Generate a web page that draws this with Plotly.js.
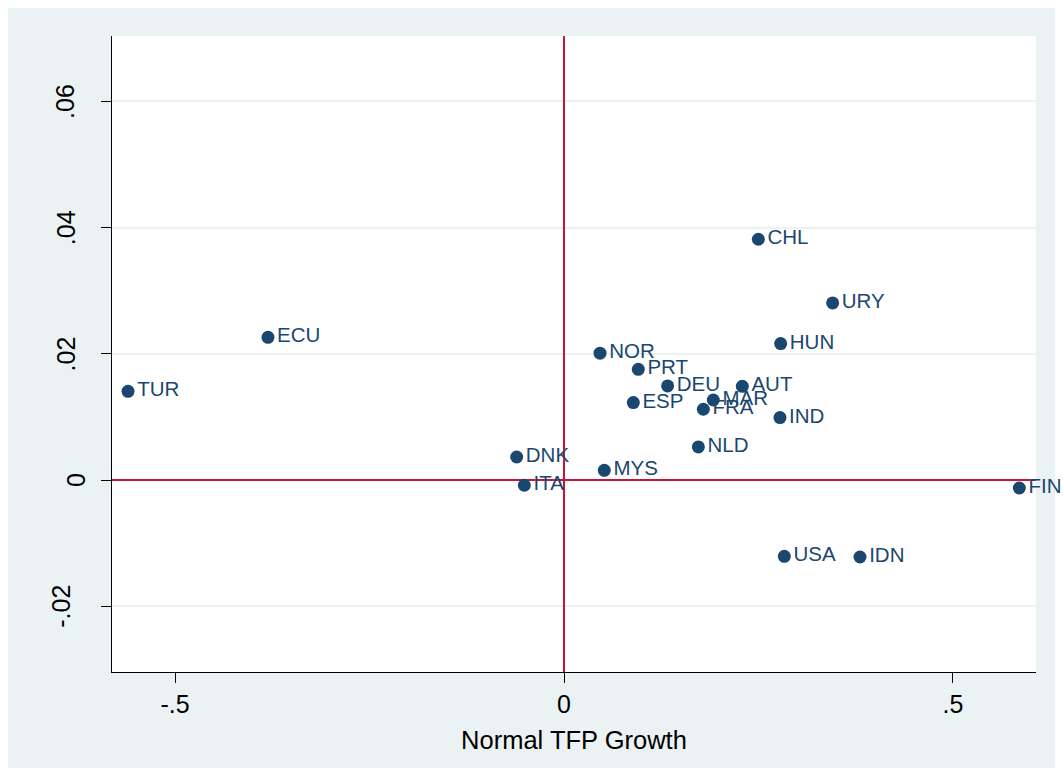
<!DOCTYPE html>
<html>
<head>
<meta charset="utf-8">
<script src="https://cdn.plot.ly/plotly-3.0.1.min.js"></script>
<style>html,body{margin:0;padding:0;background:#fff;}#chart{width:1063px;height:776px;}</style>
</head>
<body>
<div id="chart"></div>
<script>
const countries = ["TUR","ECU","NOR","PRT","DEU","ESP","MAR","FRA","AUT","NLD","IND","HUN","CHL","URY","DNK","MYS","ITA","FIN","USA","IDN"];
const tfpGrowth = [-0.5604,-0.3805,0.0463,0.0955,0.1332,0.0891,0.1919,0.1791,0.2292,0.1727,0.2776,0.2785,0.2498,0.3453,-0.0608,0.0518,-0.0510,0.5853,0.2832,0.3805];
const yValues = [0.01406,0.02261,0.02010,0.01754,0.01490,0.01227,0.01268,0.01121,0.01485,0.00524,0.00989,0.02162,0.03814,0.02805,0.00365,0.00154,-0.00083,-0.00126,-0.01208,-0.01219];
const xTickVals = [-0.5,0,0.5];
const xTickText = ["-.5","0",".5"];
const yTickVals = [-0.02,0,0.02,0.04,0.06];
const yTickText = ["-.02","0",".02",".04",".06"];

const navy = "#1a476f";
const bgBlue = "#eaf2f3";
const red = "#c8153c";
const font = "Arial, 'Liberation Sans', sans-serif";
const tickSize = 25;

const trace = {
  type: "scatter",
  mode: "markers+text",
  x: tfpGrowth,
  y: yValues,
  text: countries,
  textposition: "middle right",
  textfont: {family: font, size: 20.5, color: navy},
  marker: {size: 13, color: navy},
  cliponaxis: false,
  hoverinfo: "skip"
};

// plot area: 112..1036 x 36..672
const W = 924, H = 636, L = 112, T = 36;
function px(p){ return (p - L) / W; }
function py(p){ return (T + H - p) / H; }

// rough text width (em) of a tick label in Arial
function emWidth(s){
  let w = 0;
  for (const c of s) w += (c === "." ? 0.278 : c === "-" ? 0.333 : 0.556);
  return w;
}

// y tick labels, rotated, placed like the original (longer labels sit further left)
const yLabelAnnotations = yTickText.map((t, i) => ({
  xref: "paper", yref: "y",
  x: 0, y: yTickVals[i],
  text: t, showarrow: false,
  textangle: -90,
  xanchor: "center", yanchor: "middle",
  xshift: -29 - 0.5 * emWidth(t) * tickSize,
  font: {family: font, size: tickSize, color: "#000"}
}));

const layout = {
  width: 1063, height: 776,
  margin: {l: 112, r: 27, t: 36, b: 104, pad: 0},
  paper_bgcolor: "#ffffff",
  plot_bgcolor: "rgba(0,0,0,0)",
  showlegend: false,
  font: {family: font, color: "#000"},
  xaxis: {
    range: [-0.581, 0.6067],
    tickvals: xTickVals, ticktext: xTickText,
    ticks: "outside", ticklen: 10, tickwidth: 1, tickcolor: "#000",
    tickfont: {family: font, size: tickSize, color: "#000"},
    showgrid: false,
    zeroline: true, zerolinecolor: red, zerolinewidth: 2,
    showline: true, linecolor: "#000", linewidth: 1,
    title: {text: "Normal TFP Growth", font: {family: font, size: 25.5, color: "#000"}, standoff: 14},
    fixedrange: true
  },
  yaxis: {
    range: [-0.03041, 0.07034],
    tickvals: yTickVals,
    showticklabels: false,
    ticks: "outside", ticklen: 10, tickwidth: 1, tickcolor: "#000",
    showgrid: true, gridcolor: bgBlue, gridwidth: 2,
    zeroline: true, zerolinecolor: red, zerolinewidth: 2,
    showline: true, linecolor: "#000", linewidth: 1,
    fixedrange: true
  },
  annotations: yLabelAnnotations,
  shapes: [
    {type: "rect", xref: "paper", yref: "paper", layer: "below",
     x0: px(8), x1: px(1055), y0: py(768), y1: py(8),
     fillcolor: bgBlue, line: {width: 0}},
    {type: "rect", xref: "paper", yref: "paper", layer: "below",
     x0: 0, x1: 1, y0: 0, y1: 1,
     fillcolor: "#ffffff", line: {width: 0}}
  ]
};

Plotly.newPlot("chart", [trace], layout, {displayModeBar: false, staticPlot: true});
</script>
</body>
</html>
